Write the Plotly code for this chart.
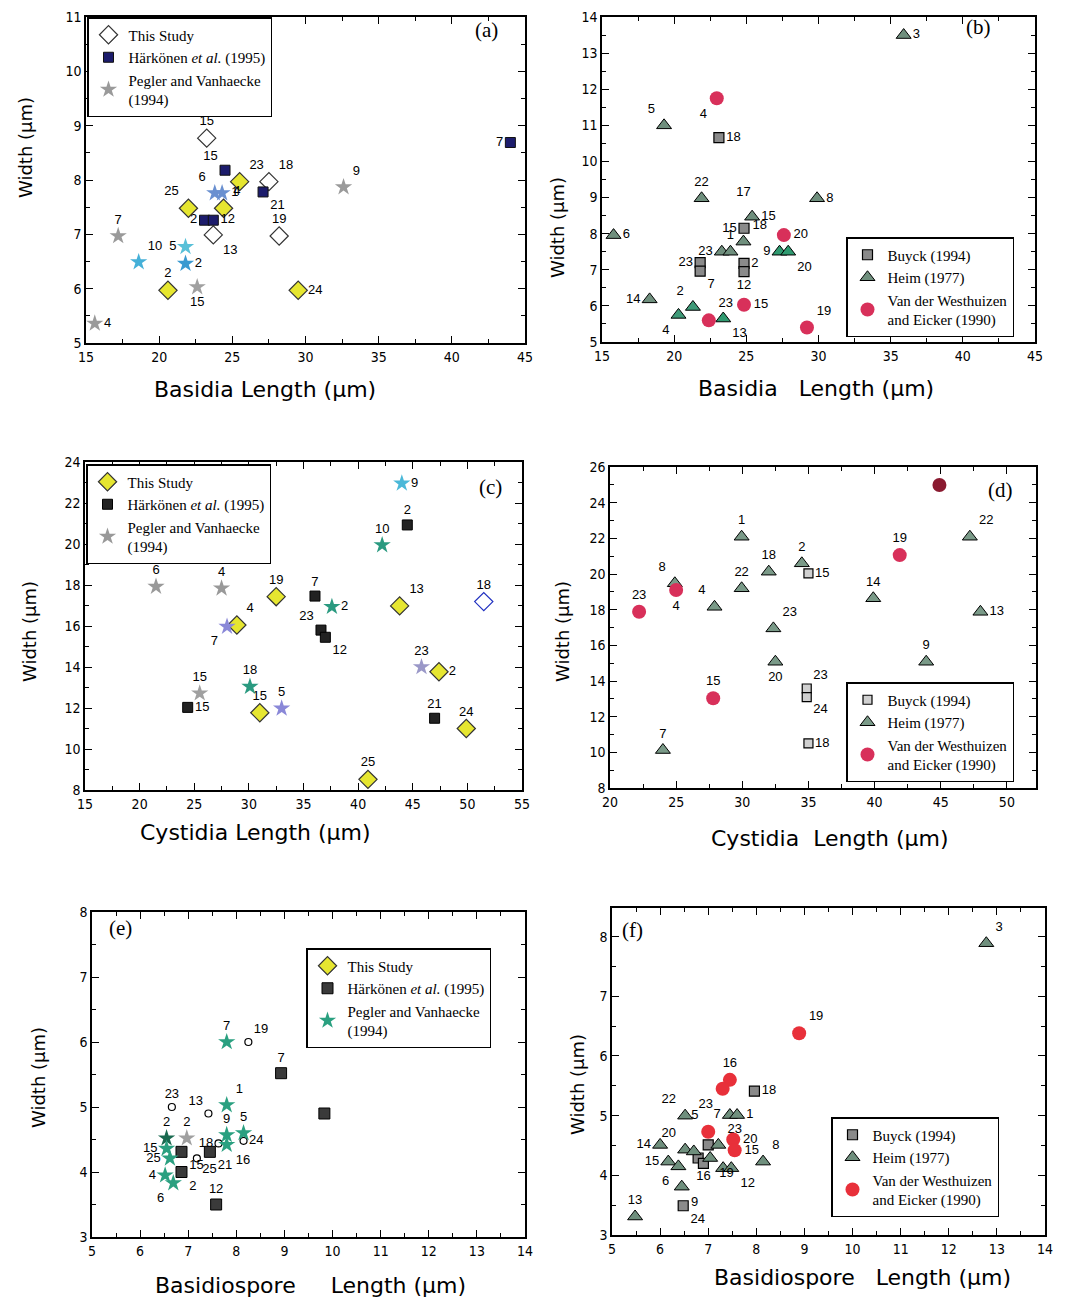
import plotly.graph_objects as go

W, H = 1066, 1303
OX, OY = 8, 8  # page body margin offset compensation

# ---------------- Panel (a): Basidia, this study / Harkonen / Pegler ----------------
A_STUDY_X = [23.25, 25.5, 27.5, 22.0, 24.4, 23.7, 28.2, 20.6, 29.5]
A_STUDY_Y = [8.77, 7.97, 7.97, 7.48, 7.48, 6.99, 6.97, 5.97, 5.97]
A_STUDY_L = ["15", "23", "18", "25", "4", "13", "19", "2", "24"]
A_HARK_X = [24.5, 27.1, 44.0, 23.1, 23.7]
A_HARK_Y = [8.18, 7.78, 8.69, 7.26, 7.26]
A_HARK_L = ["15", "21", "7", "2", "12"]
A_PEG_X = [17.2, 18.6, 21.8, 21.8, 22.6, 32.6, 15.6, 23.8, 24.3]
A_PEG_Y = [6.97, 6.49, 6.77, 6.46, 6.03, 7.87, 5.36, 7.76, 7.76]
A_PEG_L = ["7", "10", "5", "2", "15", "9", "4", "6", "1"]

# ---------------- Panel (b): Basidia, Buyck / Heim / Van der Westhuizen ----------------
B_BUY_X = [23.1, 24.84, 24.84, 24.84, 21.8, 21.8]
B_BUY_Y = [10.66, 8.15, 7.18, 6.95, 7.2, 6.96]
B_BUY_L = ["18", "15", "2", "12", "23", "7"]
B_HEIM_X = [35.9, 19.3, 21.9, 29.9, 25.4, 15.8, 24.8, 23.3, 23.9, 27.3, 27.9, 18.3, 21.3, 20.3, 23.4]
B_HEIM_Y = [13.5, 11.0, 8.98, 8.98, 8.47, 7.96, 7.78, 7.5, 7.5, 7.5, 7.5, 6.18, 5.97, 5.75, 5.65]
B_HEIM_L = ["3", "5", "22", "8", "15", "6", "18", "23", "1", "9", "20", "14", "2", "4", "13"]
B_VDW_X = [22.95, 27.6, 24.84, 22.4, 29.2]
B_VDW_Y = [11.75, 7.96, 6.03, 5.6, 5.4]
B_VDW_L = ["4", "20", "15", "23", "19"]
B_EXTRA_X = [24.8]
B_EXTRA_Y = [9.13]
B_EXTRA_L = ["17"]

# ---------------- Panel (c): Cystidia, this study / Harkonen / Pegler ----------------
C_STUDY_X = [32.5, 28.9, 43.8, 51.5, 47.4, 31.0, 49.9, 40.9]
C_STUDY_Y = [17.43, 16.05, 16.98, 17.19, 13.77, 11.77, 11.0, 8.52]
C_STUDY_L = ["19", "4", "13", "18", "2", "15", "24", "25"]
C_HARK_X = [44.5, 36.05, 36.6, 37.0, 24.4, 47.0]
C_HARK_Y = [20.93, 17.46, 15.8, 15.45, 12.03, 11.5]
C_HARK_L = ["2", "7", "23", "12", "15", "21"]
C_PEG_X = [21.5, 44.0, 42.2, 27.5, 37.6, 28.0, 45.8, 25.5, 30.1, 33.0]
C_PEG_Y = [17.92, 22.96, 19.95, 17.84, 16.94, 15.97, 14.0, 12.72, 13.04, 11.98]
C_PEG_L = ["6", "9", "10", "4", "2", "7", "23", "15", "18", "5"]

# ---------------- Panel (d): Cystidia, Buyck / Heim / Van der Westhuizen ----------------
D_BUY_X = [35.0, 34.87, 34.87, 35.0]
D_BUY_Y = [20.04, 13.58, 13.1, 10.5]
D_BUY_L = ["15", "23", "24", "18"]
D_HEIM_X = [29.95, 47.2, 34.5, 32.0, 29.95, 27.9, 24.9, 39.9, 48.0, 32.35, 32.5, 43.9, 24.0]
D_HEIM_Y = [22.09, 22.09, 20.6, 20.13, 19.2, 18.16, 19.48, 18.64, 17.88, 16.95, 15.08, 15.08, 10.13]
D_HEIM_L = ["1", "22", "2", "18", "22", "4", "8", "14", "13", "23", "20", "9", "7"]
D_VDW_X = [22.2, 25.0, 27.8, 41.9, 44.9]
D_VDW_Y = [17.88, 19.1, 13.03, 21.06, 24.99]
D_VDW_L = ["23", "4", "15", "19", ""]

# ---------------- Panel (e): Basidiospore, this study / Harkonen / Pegler ----------------
E_STUDY_X = [8.25, 6.66, 7.42, 7.63, 8.15, 7.18]
E_STUDY_Y = [6.0, 5.0, 4.9, 4.44, 4.48, 4.21]
E_STUDY_L = ["19", "23", "13", "18", "24", "25"]
E_HARK_X = [8.93, 9.83, 7.45, 6.86, 6.86, 7.58]
E_HARK_Y = [5.52, 4.9, 4.31, 4.31, 4.0, 3.5]
E_HARK_L = ["7", "", "21", "15", "2", "12"]
E_PEG_X = [7.8, 7.8, 7.8, 8.15, 7.8, 6.55, 6.97, 6.55, 6.62, 6.52, 6.69]
E_PEG_Y = [6.0, 5.03, 4.57, 4.6, 4.42, 4.52, 4.52, 4.36, 4.21, 3.95, 3.83]
E_PEG_L = ["7", "1", "9", "5", "16", "2", "2", "15", "25", "4", "6"]

# ---------------- Panel (f): Basidiospore, Buyck / Heim / Van der Westhuizen ----------------
F_BUY_X = [7.96, 6.48, 7.0, 6.79, 6.9]
F_BUY_Y = [5.41, 3.49, 4.51, 4.29, 4.2]
F_BUY_L = ["18", "24", "", "", "16"]
F_HEIM_X = [12.78, 6.52, 7.45, 7.6, 6.0, 6.52, 7.21, 6.17, 6.38, 7.04, 7.31, 7.48, 8.14, 6.45, 5.48, 6.7]
F_HEIM_Y = [7.89, 5.0, 5.01, 5.01, 4.51, 4.43, 4.51, 4.23, 4.15, 4.29, 4.12, 4.12, 4.23, 3.81, 3.31, 4.4]
F_HEIM_L = ["3", "22", "7", "1", "14", "20", "23", "15", "6", "19", "", "12", "8", "9", "13", ""]
F_VDW_X = [8.89, 7.45, 7.3, 7.0, 7.52, 7.55]
F_VDW_Y = [6.38, 5.6, 5.45, 4.73, 4.6, 4.42]
F_VDW_L = ["19", "16", "23", "5", "20", "15"]

# ---------------- styles (kept apart from the data) ----------------
YEL = "#e6e630"
A_STUDY_FILL = ["white", YEL, "white", YEL, YEL, "white", "white", YEL, YEL]
A_STUDY_POS = ["top center", "top right", "top right", "top left", "top right", "bottom right",
               "top center", "top center", "middle right"]
A_HARK_POS = ["top left", "bottom right", "middle left", "middle left", "middle right"]
A_PEG_COL = ["#9a9a9a", "#45b0d8", "#58c0d8", "#3a9ad0", "#a0a0a0", "#9a9a9a", "#9a9a9a", "#6a90d0", "#6a90d0"]
A_PEG_POS = ["top center", "top right", "middle left", "middle right", "bottom center", "top right",
             "middle right", "top left", "middle right"]

B_BUY_POS = ["middle right", "middle left", "middle right", "bottom center", "middle left", "bottom right"]
B_HEIM_COL = ["#6f8f7d", "#6f8f7d", "#6f8f7d", "#6f8f7d", "#6f8f7d", "#6f8f7d", "#6f8f7d", "#6f8f7d",
              "#6f8f7d", "#2f9a70", "#2f9a70", "#6f8f7d", "#3f9a78", "#3f9a78", "#2f9a70"]
B_HEIM_POS = ["middle right", "top left", "top center", "middle right", "middle right", "middle right",
              "top right", "middle left", "top center", "middle left", "bottom right", "middle left",
              "top left", "bottom left", "bottom right"]
B_VDW_POS = ["bottom left", "middle right", "middle right", "top right", "top right"]

C_STUDY_FILL = [YEL, YEL, YEL, "white", YEL, YEL, YEL, YEL]
C_STUDY_LINE = ["#333", "#333", "#333", "#2030c0", "#333", "#333", "#333", "#333"]
C_STUDY_POS = ["top center", "top right", "top right", "top center", "middle right", "top center",
               "top center", "top center"]
C_HARK_POS = ["top center", "top center", "top left", "bottom right", "middle right", "top center"]
C_PEG_COL = ["#999999", "#4ab8d8", "#2a9a80", "#999999", "#2a9a80", "#8a88d8", "#9a98c8", "#a0a0a0",
             "#2a9a80", "#8a88d8"]
C_PEG_POS = ["top center", "middle right", "top center", "top center", "middle right", "bottom left",
             "top center", "top center", "top center", "top center"]

D_BUY_POS = ["middle right", "top right", "bottom right", "middle right"]
D_HEIM_POS = ["top center", "top right", "top center", "top center", "top center", "top left", "top left",
              "top center", "middle right", "top right", "bottom center", "top center", "top center"]
D_VDW_COL = ["#d8305a", "#d8305a", "#d8305a", "#d8305a", "#8a1a30"]
D_VDW_POS = ["top center", "bottom center", "top center", "top center", "top center"]

E_STUDY_POS = ["top right", "top center", "top left", "middle left", "middle right", "bottom right"]
E_HARK_POS = ["top center", "top center", "bottom right", "bottom right", "bottom right", "top center"]
E_PEG_COL = ["#2aa080", "#2aa080", "#2aa080", "#2aa080", "#2aa080", "#1a6a50", "#a0a0a0", "#2aa080",
             "#2aa080", "#2aa080", "#2aa080"]
E_PEG_POS = ["top center", "top right", "top center", "top center", "bottom right", "top center",
             "top center", "middle left", "middle left", "middle left", "bottom left"]

F_BUY_POS = ["middle right", "bottom right", "top center", "top center", "bottom center"]
F_HEIM_POS = ["top right", "top left", "middle left", "middle right", "middle left", "top left", "top right",
              "middle left", "bottom left", "bottom right", "top center", "bottom right", "top right",
              "bottom right", "top center", "top center"]
F_VDW_POS = ["top right", "top center", "bottom left", "top left", "middle right", "middle right"]

LABEL_FONT = dict(family="Liberation Sans, Arial, sans-serif", size=13, color="black")
SERIF = "Liberation Serif, Times New Roman, serif"
SANS_N = "Liberation Sans Narrow, Arial Narrow, DejaVu Sans Condensed, Liberation Sans, sans-serif"
TITLE_FONT = dict(family="DejaVu Sans, Verdana, sans-serif", size=22, color="black")


def px(x):
    return (x - OX) / W


def py(y):
    return 1 - (y - OY) / H


# panel geometry in pixels: x-domain, y-domain (top, bottom), ranges, ticks
PANELS = [
    dict(xd=(86, 525), yd=(17, 343), xr=(15, 45), yr=(5, 11), xdt=5, xm=2.5, ydt=1, ym=0.5, x0=15, y0=5),
    dict(xd=(602, 1035), yd=(17, 342), xr=(15, 45), yr=(5, 14), xdt=5, xm=2.5, ydt=1, ym=0.5, x0=15, y0=5),
    dict(xd=(85, 522), yd=(462, 790), xr=(15, 55), yr=(8, 24), xdt=5, xm=2.5, ydt=2, ym=1, x0=15, y0=8),
    dict(xd=(610, 1036), yd=(467, 788), xr=(20, 52.2), yr=(8, 26), xdt=5, xm=2.5, ydt=2, ym=1, x0=20, y0=8),
    dict(xd=(92, 525), yd=(912, 1237), xr=(5, 14), yr=(3, 8), xdt=1, xm=0.5, ydt=1, ym=0.5, x0=5, y0=3),
    dict(xd=(612, 1045), yd=(908, 1235), xr=(5, 14), yr=(3, 8.48), xdt=1, xm=0.5, ydt=1, ym=0.5, x0=5, y0=3),
]

fig = go.Figure()


def ax(i):
    return ("x" if i == 0 else f"x{i+1}"), ("y" if i == 0 else f"y{i+1}")


def add(i, name, xs, ys, labels, pos, symbol, size, fill, line="black", lw=1, legend=True, mode="markers+text"):
    xa, ya = ax(i)
    fig.add_trace(go.Scatter(
        x=xs, y=ys, text=labels, textposition=pos, mode=mode, name=name,
        xaxis=xa, yaxis=ya, legend=("legend" if i == 0 else f"legend{i+1}"), showlegend=legend,
        marker=dict(symbol=symbol, size=size, color=fill, line=dict(color=line, width=lw)),
        textfont=LABEL_FONT, cliponaxis=False,
    ))


HARK = "H&#228;rk&#246;nen <i>et al.</i> (1995)"
PEG = "Pegler and Vanhaecke<br>(1994)"
VDW = "Van der Westhuizen<br>and Eicker (1990)"

# (a)
add(0, "This Study", A_STUDY_X, A_STUDY_Y, A_STUDY_L, A_STUDY_POS, "diamond", 14, A_STUDY_FILL, "#333", 1.2)
add(0, HARK, A_HARK_X, A_HARK_Y, A_HARK_L, A_HARK_POS, "square", 10, "#1c1c6c", "#111", 1)
add(0, PEG, A_PEG_X, A_PEG_Y, A_PEG_L, A_PEG_POS, "star", 13, A_PEG_COL, "rgba(0,0,0,0)", 0)
# (b)
add(1, "Buyck (1994)", B_BUY_X, B_BUY_Y, B_BUY_L, B_BUY_POS, "square", 10, "#8a8a8a", "black", 1.2)
add(1, "Heim (1977)", B_HEIM_X, B_HEIM_Y, B_HEIM_L, B_HEIM_POS, "triangle-up", 13, B_HEIM_COL, "black", 1)
add(1, VDW, B_VDW_X, B_VDW_Y, B_VDW_L, B_VDW_POS, "circle", 14, "#d8305a", "#d8305a", 0)
add(1, "", B_EXTRA_X, B_EXTRA_Y, B_EXTRA_L, "middle center", "circle", 1, "white", legend=False, mode="text")
# (c)
add(2, "This Study", C_STUDY_X, C_STUDY_Y, C_STUDY_L, C_STUDY_POS, "diamond", 14, C_STUDY_FILL, C_STUDY_LINE, 1.2)
add(2, HARK, C_HARK_X, C_HARK_Y, C_HARK_L, C_HARK_POS, "square", 10, "#222222", "black", 1)
add(2, PEG, C_PEG_X, C_PEG_Y, C_PEG_L, C_PEG_POS, "star", 13, C_PEG_COL, "rgba(0,0,0,0)", 0)
# (d)
add(3, "Buyck (1994)", D_BUY_X, D_BUY_Y, D_BUY_L, D_BUY_POS, "square", 9, "#d0d0d0", "black", 1.2)
add(3, "Heim (1977)", D_HEIM_X, D_HEIM_Y, D_HEIM_L, D_HEIM_POS, "triangle-up", 13, "#7a9a88", "black", 1)
add(3, VDW, D_VDW_X, D_VDW_Y, D_VDW_L, D_VDW_POS, "circle", 14, D_VDW_COL, "rgba(0,0,0,0)", 0)
# (e)
add(4, "This Study", E_STUDY_X, E_STUDY_Y, E_STUDY_L, E_STUDY_POS, "circle", 7, "white", "black", 1.2, legend=False)
fig.add_trace(go.Scatter(x=[None], y=[None], mode="markers", name="This Study", xaxis="x5", yaxis="y5",
                         legend="legend5", marker=dict(symbol="diamond", size=14, color=YEL,
                                                       line=dict(color="#333", width=1.2))))
add(4, HARK, E_HARK_X, E_HARK_Y, E_HARK_L, E_HARK_POS, "square", 11, "#3a3a3a", "black", 1)
add(4, PEG, E_PEG_X, E_PEG_Y, E_PEG_L, E_PEG_POS, "star", 13, E_PEG_COL, "rgba(0,0,0,0)", 0)
# (f)
add(5, "Buyck (1994)", F_BUY_X, F_BUY_Y, F_BUY_L, F_BUY_POS, "square", 10, "#8a8a8a", "black", 1.2)
add(5, "Heim (1977)", F_HEIM_X, F_HEIM_Y, F_HEIM_L, F_HEIM_POS, "triangle-up", 13, "#6f8f7d", "black", 1)
add(5, VDW, F_VDW_X, F_VDW_Y, F_VDW_L, F_VDW_POS, "circle", 14, "#e8303a", "rgba(0,0,0,0)", 0)

layout = dict(
    width=W, height=H, margin=dict(l=0, r=0, t=0, b=0, pad=0, autoexpand=False),
    paper_bgcolor="white", plot_bgcolor="white", showlegend=True,
)

axis_common = dict(
    showline=True, linecolor="black", linewidth=1.5, mirror="allticks", ticks="inside",
    ticklen=7, tickwidth=1.2, tickcolor="black", showgrid=False, zeroline=False, automargin=False,
    tickfont=dict(family=SANS_N, size=14, color="black"),
)

for i, p in enumerate(PANELS):
    s = "" if i == 0 else str(i + 1)
    layout["xaxis" + s] = dict(
        axis_common, domain=[px(p["xd"][0]), px(p["xd"][1])], range=list(p["xr"]),
        anchor="y" + s, tick0=p["x0"], dtick=p["xdt"],
        minor=dict(dtick=p["xm"], tick0=p["x0"], ticks="inside", ticklen=4, tickcolor="black", showgrid=False),
    )
    layout["yaxis" + s] = dict(
        axis_common, domain=[py(p["yd"][1]), py(p["yd"][0])], range=list(p["yr"]),
        anchor="x" + s, tick0=p["y0"], dtick=p["ydt"],
        minor=dict(dtick=p["ym"], tick0=p["y0"], ticks="inside", ticklen=4, tickcolor="black", showgrid=False),
    )

LEG_POS = [(87, 17), (846, 237), (86, 464), (846, 682), (306, 948), (831, 1117)]
for i, (lx, ly) in enumerate(LEG_POS):
    key = "legend" if i == 0 else f"legend{i+1}"
    layout[key] = dict(
        x=px(lx), y=py(ly), xanchor="left", yanchor="top", xref="paper", yref="paper",
        bgcolor="white", bordercolor="black", borderwidth=1.5,
        font=dict(family=SERIF, size=15, color="black"), tracegroupgap=0, itemwidth=30,
    )

fig.update_layout(**layout)

anns = []
# panel letters
for txt, x, y in [("(a)", 486, 30), ("(b)", 978, 27), ("(c)", 490, 487), ("(d)", 1000, 490),
                  ("(e)", 120, 928), ("(f)", 632, 930)]:
    anns.append(dict(text=txt, x=px(x), y=py(y), xref="paper", yref="paper", showarrow=False,
                     xanchor="center", yanchor="middle",
                     font=dict(family=SERIF, size=21, color="black")))
# x titles
for txt, x, y in [("Basidia Length (&#181;m)", 265, 389), ("Basidia&#160;&#160; Length (&#181;m)", 816, 388),
                  ("Cystidia Length (&#181;m)", 255, 832), ("Cystidia&#160; Length (&#181;m)", 830, 838),
                  ("Basidiospore&#160;&#160;&#160;&#160; Length (&#181;m)", 310, 1285),
                  ("Basidiospore&#160;&#160; Length (&#181;m)", 862, 1277)]:
    anns.append(dict(text=txt, x=px(x), y=py(y), xref="paper", yref="paper", showarrow=False,
                     xanchor="center", yanchor="middle", font=TITLE_FONT))
# y titles
for x, y in [(26, 148), (557, 228), (30, 632), (563, 632), (38, 1078), (577, 1085)]:
    anns.append(dict(text="Width (&#181;m)", x=px(x), y=py(y), xref="paper", yref="paper",
                     showarrow=False, textangle=-90, xanchor="center", yanchor="middle",
                     font=dict(TITLE_FONT, size=18)))

fig.update_layout(annotations=anns)
fig.write_html("out.html")
